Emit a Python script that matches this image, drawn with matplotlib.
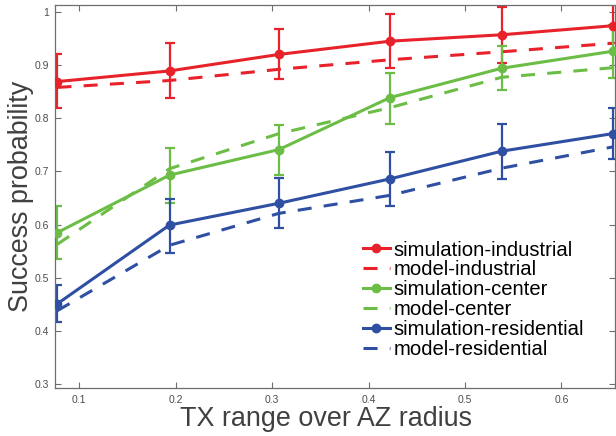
import matplotlib
matplotlib.use("Agg")
import matplotlib.pyplot as plt

plt.rcParams['font.family'] = ['Liberation Sans', 'DejaVu Sans']

# x positions: TX range over AZ radius
x = [0.0775, 0.1937, 0.307, 0.4225, 0.538, 0.653]

# simulation means and error bar bounds
sim_industrial = [0.869, 0.889, 0.920, 0.945, 0.957, 0.974]
sim_industrial_lo = [0.820, 0.839, 0.873, 0.894, 0.903, 0.941]
sim_industrial_hi = [0.920, 0.941, 0.968, 0.996, 1.010, 1.020]

sim_center = [0.585, 0.693, 0.741, 0.839, 0.894, 0.926]
sim_center_lo = [0.536, 0.641, 0.694, 0.790, 0.854, 0.876]
sim_center_hi = [0.635, 0.744, 0.787, 0.886, 0.936, 0.975]

sim_residential = [0.451, 0.599, 0.640, 0.686, 0.738, 0.771]
sim_residential_lo = [0.416, 0.547, 0.594, 0.635, 0.685, 0.723]
sim_residential_hi = [0.487, 0.648, 0.687, 0.736, 0.790, 0.820]

# model curves
model_industrial = [0.858, 0.871, 0.892, 0.910, 0.925, 0.941]
model_center = [0.563, 0.705, 0.771, 0.820, 0.877, 0.895]
model_residential = [0.438, 0.561, 0.621, 0.655, 0.706, 0.746]

red = '#e8222a'
green = '#6bbd45'
blue = '#2f4fa2'

fig = plt.figure(figsize=(6.16, 4.36), dpi=100)
ax = fig.add_axes([0.0885, 0.1101, 0.9099, 0.8784])

dash = (0, (4.6, 4.0))
lw = 2.2

series = [
    (sim_industrial, sim_industrial_lo, sim_industrial_hi, model_industrial, red, 'industrial'),
    (sim_center, sim_center_lo, sim_center_hi, model_center, green, 'center'),
    (sim_residential, sim_residential_lo, sim_residential_hi, model_residential, blue, 'residential'),
]

for sim, lo, hi, model, c, name in series:
    yerr = [[s - l for s, l in zip(sim, lo)], [h - s for s, h in zip(sim, hi)]]
    ax.errorbar(x, sim, yerr=yerr, fmt='none', ecolor=c, elinewidth=1.6,
                capsize=3.4, capthick=1.6, zorder=2)
    ax.plot(x, sim, '-o', color=c, lw=lw, ms=6, label='simulation-' + name, zorder=3)
    ax.plot(x, model, color=c, lw=lw, linestyle=dash, label='model-' + name, zorder=2)

ax.set_xlim(0.0745, 0.6555)
ax.set_ylim(0.2925, 1.013)
ax.set_xticks([0.1, 0.2, 0.3, 0.4, 0.5, 0.6])
ax.set_xticklabels(['0.1', '0.2', '0.3', '0.4', '0.5', '0.6'])
ax.set_yticks([0.3, 0.4, 0.5, 0.6, 0.7, 0.8, 0.9, 1.0])
ax.set_yticklabels(['0.3', '0.4', '0.5', '0.6', '0.7', '0.8', '0.9', '1'])

ax.tick_params(direction='in', length=4, width=0.8, color='#6e6e6e',
               labelsize=7.5, labelcolor='#4d4d4d', top=True, right=True)
ax.tick_params(axis='x', pad=5)
ax.tick_params(axis='y', pad=4)
for sp in ax.spines.values():
    sp.set_color('#6e6e6e')
    sp.set_linewidth(0.9)

ax.set_xlabel('TX range over AZ radius', fontsize=19.4, color='#404040', labelpad=1)
ax.xaxis.label.set_x(0.485)
ax.set_ylabel('Success probability', fontsize=19.4, color='#404040', labelpad=0)

ax.legend(loc='upper left', bbox_to_anchor=(0.5504, 0.385), frameon=False,
          fontsize=14.6, borderpad=0, borderaxespad=0, handlelength=1.33,
          handletextpad=0.16, labelspacing=0.04)

fig.savefig('out.png', dpi=100)
